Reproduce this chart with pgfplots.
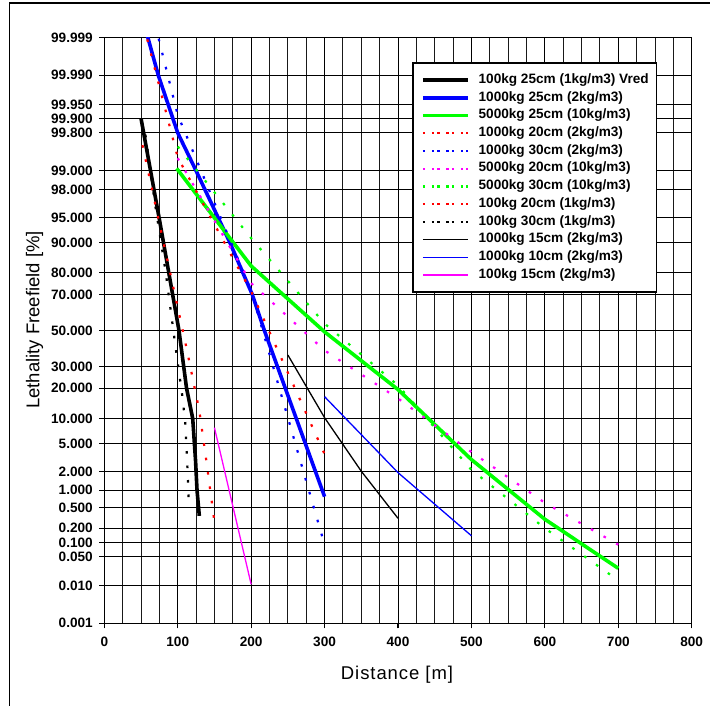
\documentclass[border=0pt]{standalone}
\usepackage{fontspec}
\setmainfont{Liberation Sans}
\newfontfamily\xlabfont[LetterSpace=5]{Liberation Sans}
\usepackage{pgfplots}
\pgfplotsset{compat=1.18}
\definecolor{cgreen}{RGB}{0,255,0}
\definecolor{cblue}{RGB}{0,0,255}
\definecolor{cred}{RGB}{255,0,0}
\definecolor{cmag}{RGB}{255,0,255}
\pgfplotsset{
  dotline/.style={line width=2.2bp, dash pattern=on 2.6bp off 11.9bp,
    legend image code/.code={\path (0bp,0bp) -- (45bp,0bp); \draw[##1] (9bp,0bp) -- (45bp,0bp);}},
  thickline/.style={line width=3.6bp, line join=round},
  thinline/.style={line width=1.3bp},
}
\begin{document}
\begin{tikzpicture}[x=1bp,y=1bp]
\useasboundingbox (0,0) rectangle (710,706);
\draw[line width=1.6bp] (9.5,-2) -- (9.5,703.2) -- (712,703.2);
\begin{axis}[
  at={(104.3bp,82.7bp)}, anchor=south west,
  width=587.4bp, height=585.6bp, scale only axis,
  xmin=0, xmax=800, ymin=-4.2649, ymax=4.2649,
  xtick={0,100,...,800},
  minor xtick={25,50,75,125,150,175,225,250,275,325,350,375,425,450,475,525,550,575,625,650,675,725,750,775},
  ytick={-4.2649,-3.7190,-3.2905,-3.0902,-2.8782,-2.5758,-2.3263,-2.0537,-1.6449,-1.2816,-0.8416,-0.5244,0,0.5244,0.8416,1.2816,1.6449,2.0537,2.3263,2.8782,3.0902,3.2905,3.7190,4.2649},
  yticklabels={0.001,0.010,0.050,0.100,0.200,0.500,1.000,2.000,5.000,10.000,20.000,30.000,50.000,70.000,80.000,90.000,95.000,98.000,99.000,99.800,99.900,99.950,99.990,99.999},
  xmajorgrids, xminorgrids, ymajorgrids,
  major grid style={black, line width=1bp},
  minor grid style={black!90, line width=1bp},
  axis line style={black, line width=1.4bp},
  tick align=outside, tick pos=left,
  major tick length=5bp, minor tick length=0bp,
  tick style={black, line width=1.1bp},
  /pgf/number format/assume math mode=true,
  ticklabel style={font=\fontsize{13.6bp}{16bp}\selectfont\bfseries},
  yticklabel style={xshift=-3bp},
  xticklabel style={yshift=-5.5bp},
  xlabel={Distance [m]},
  xlabel style={at={(axis description cs:0.4983,-0.0968)}, anchor=base, font=\xlabfont\fontsize{18.5bp}{20bp}\selectfont},
  ylabel={Lethality Freefield [\%]},
  ylabel style={at={(axis description cs:-0.1105,0.518)}, anchor=base, font=\fontsize{18.5bp}{20bp}\selectfont},
  legend style={at={(0.5244,0.958)}, anchor=north west, draw=black, line width=1.4bp, fill=white,
    font=\fontsize{13.6bp}{16bp}\selectfont\bfseries,
    inner xsep=8bp, inner ysep=11bp, row sep=5.2bp,
    nodes={inner sep=0pt, text height=9.5bp, text depth=3bp, font=\fontsize{13.6bp}{16bp}\selectfont\bfseries},
    /tikz/every odd column/.append style={column sep=9bp}},
  legend cell align=left,
  legend image code/.code={\draw[#1] (0bp,0bp) -- (45bp,0bp);},
  cycle list={{black}}, no markers,
]
% 100kg 25cm Vred
\addplot[thickline, black] coordinates {(50,3.09) (75,1.62) (101.7,0) (112,-0.84) (120.4,-1.28) (124.3,-1.9) (126.3,-2.33) (129.4,-2.70)};
\addlegendentry{100kg 25cm (1kg/m3) Vred}
% 1000kg 25cm
\addplot[thickline, cblue] coordinates {(59,4.28) (73.5,3.719) (100,2.8782) (125,2.3263) (155,1.6449) (171,1.2816) (188.7,0.8416) (201.5,0.5244) (218,0) (300,-2.42)};
\addlegendentry{1000kg 25cm (2kg/m3)}
% 5000kg 25cm
\addplot[thickline, cgreen] coordinates {(98.6,2.36) (200,0.94) (300,-0.02) (400,-0.86) (500,-1.88) (600,-2.75) (700,-3.464)};
\addlegendentry{5000kg 25cm (10kg/m3)}
% 1000kg 20cm
\addplot[dotline, cred] coordinates {(58.5,4.24) (100,2.52) (200,0.57) (300,-1.80)};
\addlegendentry{1000kg 20cm (2kg/m3)}
% 1000kg 30cm
\addplot[dotline, cblue] coordinates {(74,4.25) (100,3.14) (200,0.58) (300,-3.12)};
\addlegendentry{1000kg 30cm (2kg/m3)}
% 5000kg 20cm
\addplot[dotline, cmag] coordinates {(100,2.51) (200,0.69) (300,-0.29) (400,-0.99) (500,-1.77) (600,-2.51) (700,-3.12)};
\addlegendentry{5000kg 20cm (10kg/m3)}
% 5000kg 30cm
\addplot[dotline, cgreen] coordinates {(100,2.68) (200,1.345) (300,0.10) (400,-0.80) (500,-2.03) (600,-2.88) (700,-3.64)};
\addlegendentry{5000kg 30cm (10kg/m3)}
% 100kg 20cm
\addplot[dotline, cred] coordinates {(52,2.7) (81.7,1.23) (110.3,-0.17) (129.4,-1.17) (139.9,-1.97) (149.8,-2.775)};
\addlegendentry{100kg 20cm (1kg/m3)}
% 100kg 30cm
\addplot[dotline, black] coordinates {(56,2.85) (69,1.85) (83.6,0.85) (95.9,-0.15) (106.2,-0.95) (110.3,-1.35) (113,-1.95) (115.3,-2.556)};
\addlegendentry{100kg 30cm (1kg/m3)}
% 1000kg 15cm
\addplot[thinline, black] coordinates {(250,-0.357) (300,-1.27) (350,-2.05) (400,-2.736)};
\addlegendentry{1000kg 15cm (2kg/m3)}
% 1000kg 10cm
\addplot[thinline, cblue] coordinates {(300,-0.964) (400,-2.07) (500,-2.99)};
\addlegendentry{1000kg 10cm (2kg/m3)}
% 100kg 15cm
\addplot[thinline, cmag] coordinates {(150,-1.415) (200,-3.697)};
\addlegendentry{100kg 15cm (2kg/m3)}
\end{axis}
\end{tikzpicture}
\end{document}
